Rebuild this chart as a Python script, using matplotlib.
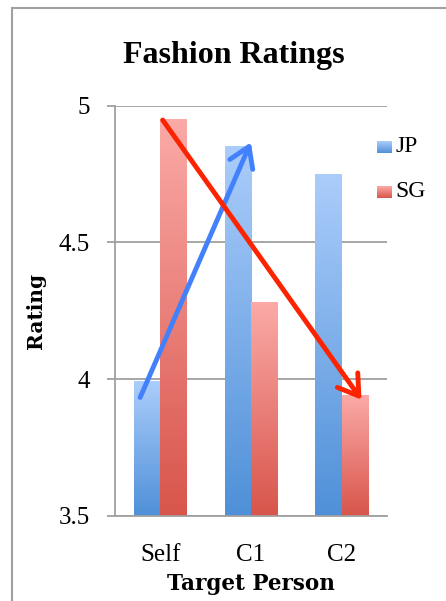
import numpy as np
import matplotlib.pyplot as plt
from matplotlib.colors import LinearSegmentedColormap
from matplotlib.patches import Rectangle

categories = ['Self', 'C1', 'C2']
jp_values = [3.99, 4.85, 4.75]
sg_values = [4.95, 4.28, 3.94]
y_ticks = [3.5, 4, 4.5, 5]

# arrows drawn on the chart (start -> end, data coords)
blue_arrow = [(-0.235, 3.924), (1.01, 4.875)]
red_arrow = [(0.008, 4.956), (2.236, 3.917)]

jp_cmap = LinearSegmentedColormap.from_list('jp', ['#4f90d8', '#abcdfb'])
sg_cmap = LinearSegmentedColormap.from_list('sg', ['#d8554b', '#fbaaa7'])

fig = plt.figure(figsize=(4.46, 6.01), dpi=100)
ax = fig.add_axes([115/446, 1-516/601, 272/446, (516-105.7)/601])

grad = np.linspace(0, 1, 256).reshape(-1, 1)
x = np.arange(len(categories))
w = 0.29
for i in range(len(categories)):
    ax.imshow(grad, cmap=jp_cmap, origin='lower', aspect='auto',
              extent=[x[i]-w, x[i], 3.5, jp_values[i]], zorder=2)
    ax.imshow(grad, cmap=sg_cmap, origin='lower', aspect='auto',
              extent=[x[i], x[i]+w, 3.5, sg_values[i]], zorder=2)

ax.set_xlim(-0.5, 2.5)
ax.set_ylim(3.5, 5)
ax.set_yticks(y_ticks)
ax.set_yticklabels(['3.5', '4', '4.5', '5'])
ax.set_xticks(x)
ax.set_xticklabels(categories)
ax.grid(axis='y', color='#a0a0a0', linewidth=1.3, zorder=1)
ax.set_axisbelow(True)
for s in ['top', 'right']:
    ax.spines[s].set_visible(False)
for s in ['left', 'bottom']:
    ax.spines[s].set_color('#a0a0a0')
    ax.spines[s].set_linewidth(1.3)
ax.tick_params(axis='y', length=6, width=1.3, color='#a0a0a0', pad=12,
               labelsize=18)
ax.tick_params(axis='x', length=0, pad=20, labelsize=18)
for t in ax.get_xticklabels() + ax.get_yticklabels():
    t.set_fontfamily('Liberation Serif')

ax.set_ylabel('Rating', fontsize=14.5, fontweight='bold', family='DejaVu Serif', labelpad=9)
ax.set_xlabel('Target Person', fontsize=15.5, fontweight='bold', family='DejaVu Serif', labelpad=5)

ax.annotate('', xy=blue_arrow[1], xytext=blue_arrow[0],
            arrowprops=dict(arrowstyle='->,head_length=0.7,head_width=0.45',
                            color='#4381fc', lw=3.5, mutation_scale=20), zorder=5)
ax.annotate('', xy=red_arrow[1], xytext=red_arrow[0],
            arrowprops=dict(arrowstyle='->,head_length=0.7,head_width=0.45',
                            color='#fc2300', lw=3.5, mutation_scale=20), zorder=5)

fig.text(234/446, 1-55/601, 'Fashion Ratings', ha='center', va='center',
         fontsize=23, fontweight='bold', family='Liberation Serif')

# legend with gradient squares
for name, cmap, yc in [('JP', jp_cmap, 147), ('SG', sg_cmap, 192)]:
    lax = fig.add_axes([377/446, 1-(yc+6)/601, 15/446, 12/601])
    lax.imshow(grad, cmap=cmap, origin='lower', aspect='auto')
    lax.axis('off')
    fig.text(395/446, 1-yc/601, name, ha='left', va='center', fontsize=17,
             family='Liberation Serif')

fig.add_artist(Rectangle((12/446, -0.1), 1.2, 1-8/601+0.1, transform=fig.transFigure,
                         fill=False, edgecolor='#a0a0a0', linewidth=1.5))

fig.savefig('out.png', dpi=100)
